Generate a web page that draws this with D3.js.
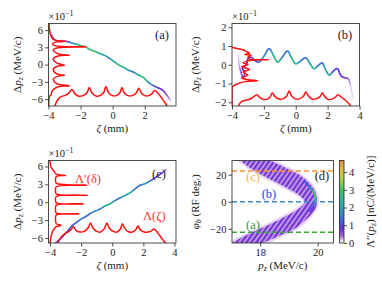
<!DOCTYPE html>
<html><head><meta charset="utf-8">
<script src="https://cdn.jsdelivr.net/npm/d3@7"></script>
<style>
body{margin:0;background:#fff}
text{font-family:"Liberation Serif","DejaVu Serif",serif}
</style>
</head><body>
<script>
// colour map of the density (same one as the colour bar in (d))
var cmapVal = [0, 0.15, 0.4, 0.8, 1.2, 1.7, 2.3, 3.0, 3.6, 4.1, 4.65];
var cmapCol = ["#ffffff","#e8d0f6","#a062dc","#6e2fd6","#4b57e2","#3690c4","#2ab2a2","#45c35e","#a4d442","#e2c23e","#f28a3c"];
var cmap = d3.scaleLinear().domain(cmapVal).range(cmapCol);

// panel (a): phase space, units 0.1 MeV/c
var aZeta = [-3.9,-3.6,-3.2,-2.8,-2.5,-2.2,-2.0,-1.7,-1.4,-1.1,-0.8,-0.5,-0.2,0.1,0.4,0.7,1.0,1.3,1.6,1.9,2.2,2.5,2.8,3.1,3.35,3.6];
var aDp   = [5.7,4.3,4.1,4.0,3.7,3.5,3.3,3.1,2.6,2.3,1.9,1.6,1.1,0.5,-0.1,-0.5,-1.0,-1.3,-1.8,-2.2,-3.0,-3.6,-4.0,-4.4,-5.2,-6.2];
var aDens = [0.15,0.6,0.9,1.1,1.8,2.4,2.8,3.0,2.6,3.0,2.5,2.0,1.6,2.2,2.8,2.4,2.0,1.5,2.2,2.8,2.3,1.5,1.0,0.8,0.5,0.2];
// current profile Lambda(zeta)
var aLamZ  = [-3.6,-3.45,-3.25,-3.0,-2.75,-2.54,-2.35,-2.1,-1.85,-1.6,-1.46,-1.3,-1.05,-0.8,-0.55,-0.42,-0.27,-0.02,0.22,0.45,0.58,0.72,0.97,1.22,1.48,1.63,1.78,2.0,2.25,2.47,2.6,2.8,3.0,3.2,3.4];
var aLamDp = [-7.2,-6.2,-5.6,-5.4,-5.0,-4.35,-5.1,-5.5,-5.4,-4.9,-4.0,-4.9,-5.45,-5.4,-4.8,-3.8,-4.8,-5.4,-5.4,-4.9,-4.0,-4.9,-5.4,-5.4,-4.9,-4.1,-4.9,-5.4,-5.4,-5.0,-4.5,-4.9,-5.6,-6.4,-7.2];
// energy profile Lambda'(delta)
var aSpecDp = [7.2,6.0,5.0,4.4,4.15,4.05,3.95,3.6,3.3,3.08,2.95,2.6,2.2,1.8,1.65,1.5,1.0,0.5,0.1,-0.1,-0.25,-0.8,-1.4,-1.75,-1.85,-2.0,-2.6,-3.3,-3.7,-3.85,-4.5,-5.3,-5.6,-6.5,-7.2];
var aSpecZ  = [-3.97,-3.93,-3.85,-3.7,-3.4,-2.9,-3.5,-3.75,-3.6,-1.65,-3.4,-3.7,-3.6,-3.3,-2.7,-3.4,-3.7,-3.6,-3.3,-3.0,-3.4,-3.7,-3.6,-3.3,-3.0,-3.4,-3.7,-3.5,-2.7,-3.4,-3.75,-3.85,-3.95,-3.98,-3.99];

// panel (b)
var bZeta = [-3.6,-3.55,-3.4,-3.3,-3.2,-3.35,-3.1,-3.0,-2.8,-2.6,-2.4,-2.3,-2.0,-1.67,-1.4,-1.14,-0.85,-0.52,-0.25,0.0,0.3,0.62,0.9,1.15,1.4,1.65,1.9,2.1,2.35,2.6,2.85,3.1,3.3,3.45,3.6];
var bDp   = [0.5,0.0,-0.5,-0.7,-0.4,-0.2,0.0,0.3,0.4,0.25,0.15,0.15,0.45,0.86,0.5,0.14,0.4,0.73,0.35,0.05,0.2,0.37,0.05,-0.21,-0.05,0.1,-0.3,-0.55,-0.35,-0.2,-0.6,-0.7,-0.75,-1.2,-1.8];
var bDens = [0.15,0.2,0.5,0.7,0.8,0.8,0.8,0.8,0.9,1.0,1.2,1.5,1.8,1.4,2.4,2.8,1.6,1.4,2.4,2.6,1.6,1.4,2.3,2.5,1.5,1.4,2.0,2.2,1.3,1.0,0.8,0.7,0.4,0.15,0.1];
var bLamZ  = [-3.6,-3.45,-3.2,-2.95,-2.7,-2.44,-2.25,-2.0,-1.75,-1.6,-1.46,-1.3,-1.05,-0.8,-0.55,-0.42,-0.27,-0.02,0.22,0.5,0.63,0.78,1.02,1.27,1.52,1.67,1.82,2.05,2.3,2.5,2.64,2.85,3.05,3.25,3.45];
var bLamDp = [-2.2,-2.0,-1.9,-1.85,-1.75,-1.6,-1.75,-1.85,-1.82,-1.7,-1.5,-1.7,-1.83,-1.82,-1.65,-1.4,-1.65,-1.82,-1.82,-1.65,-1.45,-1.65,-1.83,-1.82,-1.7,-1.5,-1.7,-1.85,-1.82,-1.72,-1.6,-1.72,-1.85,-2.0,-2.2];
var bSpecDp = [0.94,0.85,0.8,0.7,0.6,0.55,0.5,0.4,0.3,0.27,0.22,0.1,0.0,-0.1,-0.25,-0.4,-0.55,-0.7,-0.8,-0.85,-0.9,-1.0,-1.1,-1.2,-1.6,-2.2];
var bSpecZ  = [-4.0,-3.6,-3.3,-3.1,-2.9,-3.2,-2.8,-3.0,-2.9,-1.7,-2.9,-3.3,-3.0,-3.4,-2.9,-3.3,-3.0,-3.4,-3.0,-2.4,-3.2,-3.6,-3.85,-3.98,-4.0,-4.0];

// panel (c)
var cZeta = [-3.65,-3.4,-3.1,-2.88,-2.6,-2.3,-2.04,-1.7,-1.41,-1.1,-0.77,-0.45,-0.14,0.2,0.49,0.8,1.13,1.45,1.76,2.1,2.39,2.7,3.03,3.25,3.45];
var cDp   = [-6.8,-6.3,-5.5,-4.9,-4.0,-3.4,-2.9,-2.4,-1.9,-1.5,-1.12,-0.6,-0.28,0.3,0.72,1.1,1.56,2.2,2.8,3.1,3.5,4.0,4.6,5.0,5.5];
var cDens = [0.5,0.8,0.9,1.0,1.2,1.4,1.6,1.3,1.4,1.8,1.5,2.2,2.6,1.6,1.4,2.0,2.4,1.6,1.3,2.0,1.6,1.1,0.9,0.6,0.3];
var cLamZ  = [-3.5,-3.3,-3.1,-2.85,-2.65,-2.5,-2.3,-2.05,-1.8,-1.55,-1.4,-1.25,-1.0,-0.75,-0.5,-0.35,-0.2,0.05,0.3,0.52,0.66,0.8,1.05,1.3,1.52,1.65,1.8,2.05,2.3,2.52,2.66,2.85,3.05,3.25,3.45];
var cLamDp = [-6.9,-5.9,-5.4,-5.0,-4.6,-4.14,-4.8,-5.0,-4.9,-4.3,-3.5,-4.3,-4.9,-5.0,-4.4,-3.5,-4.3,-4.9,-5.0,-4.5,-3.6,-4.4,-4.95,-5.0,-4.6,-4.0,-4.6,-5.0,-5.0,-4.8,-4.5,-4.9,-5.6,-6.3,-6.9];
var cSpecDp = [7.0,6.0,5.2,4.7,4.5,4.3,3.8,3.2,2.85,2.6,2.0,1.4,1.17,0.95,0.4,-0.1,-0.28,-0.5,-1.2,-1.8,-1.96,-2.15,-2.9,-3.6,-3.9,-4.2,-5.0,-6.0,-6.9];
var cSpecZ  = [-4.0,-3.95,-3.75,-3.6,-3.0,-3.6,-3.65,-3.6,-1.66,-3.6,-3.65,-3.6,-1.6,-3.6,-3.65,-3.6,-1.87,-3.6,-3.65,-3.6,-2.15,-3.6,-3.65,-3.6,-3.3,-3.65,-3.85,-3.95,-4.0];

// panel (d): band of p_z vs RF phase
var dPhi   = [30.5,25,20,15,10,5,0,-5,-10,-15,-20,-25,-30.5];
var dInner = [17.3,17.65,18.05,18.5,18.95,19.35,19.55,19.35,18.95,18.5,18.0,17.5,17.0];
var dOuter = [18.35,18.9,19.35,19.65,19.85,19.95,19.98,19.92,19.75,19.5,19.2,18.7,18.1];
var dHotPhi = [15,11,8,5,2,-1,-4,-7];
var dHotP   = [19.55,19.72,19.83,19.9,19.93,19.9,19.85,19.72];
var dHotVal = [1.0,1.4,2.2,3.4,2.6,1.8,1.2,0.8];
var dCuts = [22.8, 0, -22.5];
var dCutCol = ["#f39530","#3a8ccc","#3aa43a"];
var dLabCol = ["#f4b548","#2a3ee0","#2f9a2f"];

var svg = d3.select("body").append("svg").attr("width",382).attr("height",287);
var defs = svg.append("defs");

function panel(o){
  var x = d3.scaleLinear().domain(o.xd).range([o.l,o.r]);
  var y = d3.scaleLinear().domain(o.yd).range([o.b,o.t]);
  defs.append("clipPath").attr("id","clip"+o.name).append("rect")
    .attr("x",o.l).attr("y",o.t).attr("width",o.r-o.l).attr("height",o.b-o.t);
  var inner = svg.append("g").attr("clip-path","url(#clip"+o.name+")");
  var g = svg.append("g");
  var ax = g.append("g").attr("transform","translate(0,"+o.b+")")
    .call(d3.axisBottom(x).tickValues(o.xt).tickSize(3.5).tickPadding(2).tickFormat(d3.format("d")));
  var ay = g.append("g").attr("transform","translate("+o.l+",0)")
    .call(d3.axisLeft(y).tickValues(o.yt).tickSize(3.5).tickPadding(2).tickFormat(d3.format("d")));
  [ax,ay].forEach(function(a){
    a.select(".domain").remove();
    a.selectAll("text").style("font-size","10.5px").style("font-family","Liberation Serif").style("fill","#222");
    a.selectAll("line").attr("stroke","#222").attr("stroke-width",0.8);
  });
  g.append("rect").attr("x",o.l).attr("y",o.t).attr("width",o.r-o.l).attr("height",o.b-o.t)
    .attr("fill","none").attr("stroke","#222").attr("stroke-width",0.8);
  return {x:x,y:y,inner:inner,g:g,o:o};
}

function dpLabel(p, cx){
  var t = p.g.append("text").attr("transform","translate("+cx+","+((p.o.t+p.o.b)/2)+") rotate(-90)")
    .attr("text-anchor","middle").style("font-size","11px").style("fill","#222");
  t.append("tspan").text("Δ");
  t.append("tspan").style("font-style","italic").text("p");
  t.append("tspan").style("font-style","italic").style("font-size","8px").attr("dy",2).text("z");
  t.append("tspan").attr("dy",-2).text(" (MeV/c)");
}
function zetaLabel(p){
  var t = p.g.append("text").attr("x",(p.o.l+p.o.r)/2).attr("y",p.o.b+26)
    .attr("text-anchor","middle").style("font-size","11px").style("fill","#222");
  t.append("tspan").style("font-style","italic").text("ζ");
  t.append("tspan").text(" (mm)");
}
function expLabel(p){
  var t = p.g.append("text").attr("x",p.o.l).attr("y",p.o.t-4).style("font-size","10.5px").style("fill","#222");
  t.append("tspan").text("×10");
  t.append("tspan").style("font-size","8px").attr("dy",-4).text("−1");
}
function tag(p, txt, x, y, col){
  p.g.append("text").attr("x",x).attr("y",y).attr("text-anchor","middle")
    .style("font-size","12.5px").style("fill",col||"#222").text(txt);
}

// smooth line through the points, coloured along its length by density
function phaseLine(p, zs, dps, dens){
  var pts = zs.map(function(z,i){return [p.x(z),p.y(dps[i])];});
  var line = d3.line().curve(d3.curveCatmullRom.alpha(0.5));
  var path = p.inner.append("path").attr("d",line(pts)).attr("fill","none").attr("stroke","none");
  var node = path.node(), L = node.getTotalLength();
  var cum = [0];
  for (var i=1;i<pts.length;i++) cum.push(cum[i-1]+Math.hypot(pts[i][0]-pts[i-1][0],pts[i][1]-pts[i-1][1]));
  var s = d3.scaleLinear().domain(cum.map(function(c){return c/cum[cum.length-1]*L;})).range(dens);
  var n = Math.ceil(L/1.2), prev = node.getPointAtLength(0);
  for (var k=1;k<=n;k++){
    var l = k/n*L, q = node.getPointAtLength(l);
    p.inner.append("line").attr("x1",prev.x).attr("y1",prev.y).attr("x2",q.x).attr("y2",q.y)
      .attr("stroke",cmap(s(l-L/n/2))).attr("stroke-width",1.5).attr("stroke-linecap","round");
    prev = q;
  }
}
function redX(p, zs, dps){
  var line = d3.line().curve(d3.curveCatmullRom.alpha(0.5)).x(function(d){return p.x(d[0]);}).y(function(d){return p.y(d[1]);});
  p.inner.append("path").datum(zs.map(function(z,i){return [z,dps[i]];}))
    .attr("d",line).attr("fill","none").attr("stroke","#ff1010").attr("stroke-width",1.5);
}

// (a)
var pa = panel({name:"a",l:48.5,r:176,t:23.5,b:106,xd:[-4,3.95],yd:[-7.2,7.15],xt:[-4,-2,0,2],yt:[-6,-3,0,3,6]});
phaseLine(pa,aZeta,aDp,aDens);
redX(pa,aLamZ,aLamDp);
redX(pa,aSpecZ,aSpecDp);
dpLabel(pa,21); zetaLabel(pa); expLabel(pa); tag(pa,"(a)",162,39);

// (b)
var pb = panel({name:"b",l:232,r:359.5,t:23.5,b:106,xd:[-4,4],yd:[-2.2,2.2],xt:[-4,-2,0,2,4],yt:[-2,-1,0,1,2]});
phaseLine(pb,bZeta,bDp,bDens);
redX(pb,bLamZ,bLamDp);
redX(pb,bSpecZ,bSpecDp);
dpLabel(pb,199); zetaLabel(pb); expLabel(pb); tag(pb,"(b)",345,39);

// (c)
var pc = panel({name:"c",l:48.5,r:176,t:160.5,b:243,xd:[-4.1,4.1],yd:[-6.85,7.0],xt:[-4,-2,0,2,4],yt:[-6,-3,0,3,6]});
phaseLine(pc,cZeta,cDp,cDens);
redX(pc,cLamZ,cLamDp);
redX(pc,cSpecZ,cSpecDp);
dpLabel(pc,21); zetaLabel(pc); expLabel(pc); tag(pc,"(c)",159,178);
pc.g.append("text").attr("x",75).attr("y",183).style("font-size","12.5px").style("fill","#ff3030").text("Λ′(δ)");
pc.g.append("text").attr("x",143).attr("y",220).style("font-size","12.5px").style("fill","#ff3030").text("Λ(ζ)");

// (d)
var pd = panel({name:"d",l:232,r:333.5,t:160.5,b:243,xd:[17.02,20.55],yd:[-30.5,30.5],xt:[18,20],yt:[-20,0,20]});
var pat = defs.append("pattern").attr("id","hatch").attr("patternUnits","userSpaceOnUse")
  .attr("width",4).attr("height",4).attr("patternTransform","rotate(35)");
pat.append("rect").attr("width",4).attr("height",4).attr("fill","#bb92ec");
pat.append("rect").attr("width",2).attr("height",4).attr("fill","#7434cf");
var band = d3.area().curve(d3.curveCatmullRom)
  .y(function(d,i){return pd.y(dPhi[i]);})
  .x0(function(d,i){return pd.x(dInner[i]);})
  .x1(function(d,i){return pd.x(dOuter[i]);});
pd.inner.append("path").datum(dPhi).attr("d",band).attr("fill","#e6d3f6").attr("stroke","#e6d3f6").attr("stroke-width",4);
pd.inner.append("path").datum(dPhi).attr("d",band).attr("fill","url(#hatch)");
for (var i=0;i<dHotPhi.length-1;i++){
  pd.inner.append("line").attr("x1",pd.x(dHotP[i])).attr("y1",pd.y(dHotPhi[i]))
    .attr("x2",pd.x(dHotP[i+1])).attr("y2",pd.y(dHotPhi[i+1]))
    .attr("stroke",cmap((dHotVal[i]+dHotVal[i+1])/2)).attr("stroke-width",2).attr("stroke-linecap","round");
}
dCuts.forEach(function(c,i){
  pd.inner.append("line").attr("x1",pd.o.l).attr("x2",pd.o.r).attr("y1",pd.y(c)).attr("y2",pd.y(c))
    .attr("stroke",dCutCol[i]).attr("stroke-width",1.5).attr("stroke-dasharray","5,3");
});
tag(pd,"(c)",253,181,dLabCol[0]);
tag(pd,"(b)",269,198,dLabCol[1]);
tag(pd,"(a)",253,229,dLabCol[2]);
tag(pd,"(d)",322,180);
var tx = pd.g.append("text").attr("x",(pd.o.l+pd.o.r)/2).attr("y",pd.o.b+26).attr("text-anchor","middle").style("font-size","11px").style("fill","#222");
tx.append("tspan").style("font-style","italic").text("p");
tx.append("tspan").style("font-style","italic").style("font-size","8px").attr("dy",2).text("z");
tx.append("tspan").attr("dy",-2).text(" (MeV/c)");
var ty = pd.g.append("text").attr("transform","translate(199,"+((pd.o.t+pd.o.b)/2)+") rotate(-90)").attr("text-anchor","middle").style("font-size","11px").style("fill","#222");
ty.append("tspan").style("font-style","italic").text("φ");
ty.append("tspan").style("font-style","italic").style("font-size","8px").attr("dy",2).text("b");
ty.append("tspan").attr("dy",-2).text(" (RF deg.)");

// colour bar
var cb = {l:339.5,r:344,t:160.5,b:243};
var cy = d3.scaleLinear().domain([0,4.65]).range([cb.b,cb.t]);
var grad = defs.append("linearGradient").attr("id","cbg").attr("x1",0).attr("x2",0).attr("y1",1).attr("y2",0);
cmapVal.forEach(function(v,i){grad.append("stop").attr("offset",v/4.65).attr("stop-color",cmapCol[i]);});
svg.append("rect").attr("x",cb.l).attr("y",cb.t).attr("width",cb.r-cb.l).attr("height",cb.b-cb.t)
  .attr("fill","url(#cbg)").attr("stroke","#222").attr("stroke-width",0.8);
var cax = svg.append("g").attr("transform","translate("+cb.r+",0)")
  .call(d3.axisRight(cy).tickValues([0,1,2,3,4]).tickSize(3).tickPadding(2).tickFormat(d3.format("d")));
cax.select(".domain").remove();
cax.selectAll("text").style("font-size","10.5px").style("font-family","Liberation Serif").style("fill","#222");
cax.selectAll("line").attr("stroke","#222").attr("stroke-width",0.8);
var tc = svg.append("text").attr("transform","translate(374,"+((cb.t+cb.b)/2)+") rotate(-90)").attr("text-anchor","middle").style("font-size","11px").style("fill","#222");
tc.append("tspan").text("Λ″(");
tc.append("tspan").style("font-style","italic").text("p");
tc.append("tspan").style("font-style","italic").style("font-size","8px").attr("dy",2).text("z");
tc.append("tspan").attr("dy",-2).text(") [nC/(MeV/c)]");
</script>
</body></html>
